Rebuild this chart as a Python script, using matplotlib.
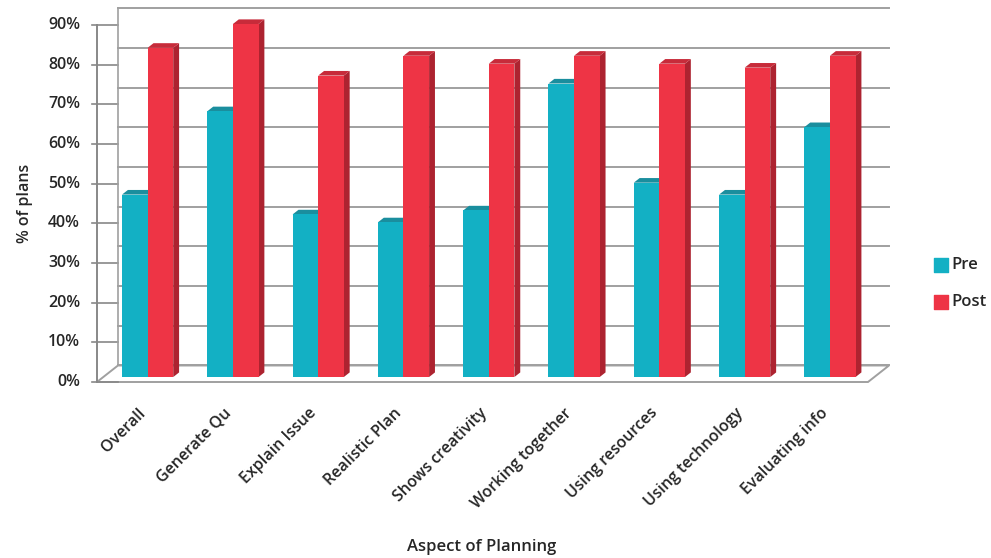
import matplotlib
matplotlib.use('Agg')
import matplotlib.pyplot as plt
from matplotlib.patches import Polygon
import numpy as np

plt.rcParams['font.family'] = ['Open Sans', 'DejaVu Sans']

categories = ['Overall', 'Generate Qu', 'Explain Issue', 'Realistic Plan',
              'Shows creativity', 'Working together', 'Using resources',
              'Using technology', 'Evaluating info']
pre = [46, 67, 41, 39, 42, 74, 49, 46, 63]
post = [83, 89, 76, 81, 79, 81, 79, 78, 81]
yticks = list(range(0, 100, 10))

# oblique "3d" offsets for the back plane (in data units)
DX, DY = 0.246, 4.16
D0, D1 = 0.30, 0.58          # bar depth range (0 = front, 1 = back)
W = 0.30                     # single bar width
X0, X1 = -0.52, 8.52         # floor extent
YMAX = 90
GRID = '#a0a0a0'
TXT = '#262626'

colors = {
    'Pre': ('#13b0c4', '#1a8e9e', '#0f8696'),
    'Post': ('#ee3445', '#c72b3a', '#ad2330'),
}

fig = plt.figure(figsize=(9.91, 5.58), dpi=100)
ax = fig.add_axes([0, 0, 1, 1])
ax.set_xlim(-1.657, 9.962)
ax.set_ylim(-44.37, 96.3)
ax.axis('off')

# floor
floor = Polygon([(X0, 0), (X1, 0), (X1 + DX, DY), (X0 + DX, DY)],
                closed=True, facecolor='white', edgecolor=GRID, lw=1.4, zorder=1)
ax.add_patch(floor)

# back wall + left wall gridlines
for v in yticks:
    ax.plot([X0 + DX, X1 + DX], [v + DY, v + DY], color=GRID, lw=1.4, zorder=2)
    ax.plot([X0, X0 + DX], [v, v], color='#888888', lw=1.2, zorder=2)
    ax.plot([X0 - 0.06, X0], [v, v], color='#888888', lw=1.2, zorder=2)
    ax.text(X0 - 0.2, v, f'{v}%', ha='right', va='center', fontsize=11.5,
            fontweight='semibold', color=TXT)
ax.plot([X0 + DX, X0 + DX], [DY, YMAX + DY], color=GRID, lw=1.2, zorder=2)
ax.plot([X0, X0], [0, YMAX], color='#888888', lw=1.4, zorder=2)


def draw_bar(xl, val, cols, z):
    front, top, side = cols
    ax.bar(xl + D0 * DX, val, width=W, bottom=D0 * DY, align='edge',
           color=front, zorder=z + 0.2, lw=0)
    xr = xl + W
    ax.add_patch(Polygon([(xr + D0 * DX, D0 * DY), (xr + D1 * DX, D1 * DY),
                          (xr + D1 * DX, val + D1 * DY), (xr + D0 * DX, val + D0 * DY)],
                         closed=True, facecolor=side, lw=0, zorder=z))
    ax.add_patch(Polygon([(xl + D0 * DX, val + D0 * DY), (xr + D0 * DX, val + D0 * DY),
                          (xr + D1 * DX, val + D1 * DY), (xl + D1 * DX, val + D1 * DY)],
                         closed=True, facecolor=top, lw=0, zorder=z + 0.1))


x = np.arange(len(categories))
for i in x:
    draw_bar(i - W, pre[i], colors['Pre'], 3)
    draw_bar(i, post[i], colors['Post'], 4)

# category labels
for i, name in zip(x, categories):
    ax.text(i - 0.04, -5.8, name, rotation=45, rotation_mode='anchor',
            ha='right', va='top', fontsize=11.5, fontweight='semibold', color=TXT)

ax.text(-1.36, 45, '% of plans', rotation=90, ha='center', va='center',
        fontsize=11.5, fontweight='semibold', color=TXT)
ax.text(3.99, -41.5, 'Aspect of Planning', ha='center', va='center',
        fontsize=12, fontweight='semibold', color=TXT)

# legend
for j, (name, cols) in enumerate(colors.items()):
    ly = 29.5 - j * 9.3
    ax.scatter([9.38], [ly], marker='s', s=100, color=cols[0], zorder=5)
    ax.text(9.5, ly, name, ha='left', va='center', fontsize=12,
            fontweight='semibold', color=TXT)

fig.savefig('out.png', dpi=100, facecolor='white')
